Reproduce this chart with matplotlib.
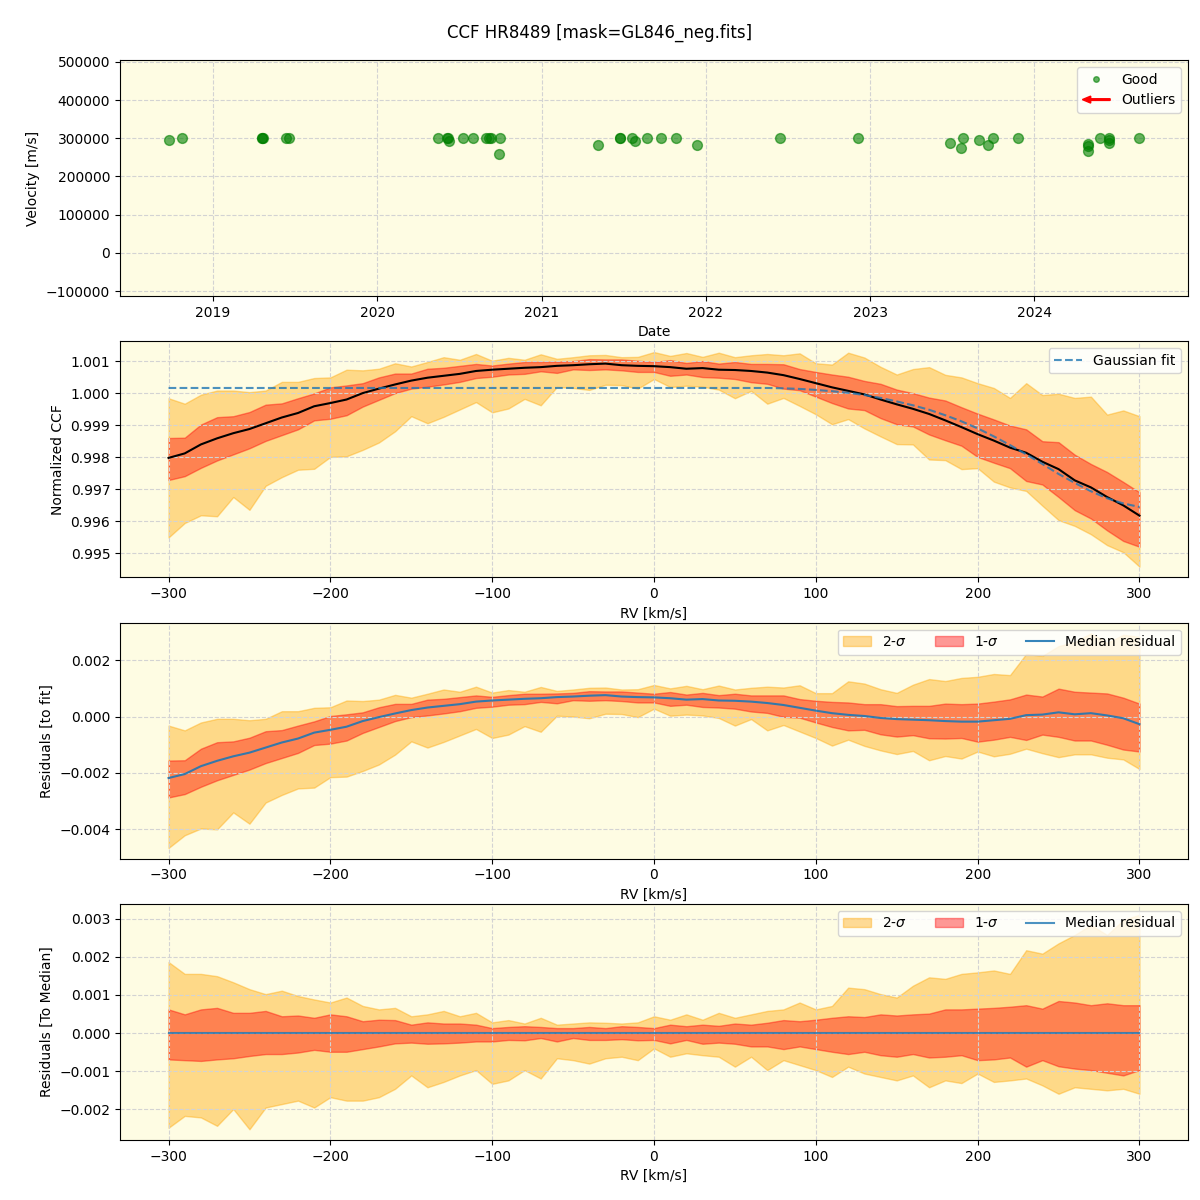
import numpy as np
import pandas as pd
import matplotlib
matplotlib.use("Agg")
import matplotlib.pyplot as plt
import matplotlib.dates as mdates
from matplotlib.lines import Line2D
from matplotlib.patches import FancyArrow
from matplotlib.legend_handler import HandlerPatch

# --- top panel: CCF velocity per night ---
obs_dates = ["2018-09-24", "2018-10-23", "2019-04-19", "2019-04-20", "2019-04-21",
             "2019-06-13", "2019-06-18", "2020-05-15", "2020-06-04", "2020-06-06",
             "2020-06-08", "2020-07-09", "2020-07-31", "2020-08-31", "2020-09-05",
             "2020-09-09", "2020-09-27", "2020-10-01", "2021-05-05", "2021-06-24",
             "2021-06-25", "2021-07-20", "2021-07-27", "2021-08-22", "2021-09-24",
             "2021-10-27", "2021-12-13", "2022-06-14", "2022-12-05", "2023-06-28",
             "2023-07-23", "2023-07-27", "2023-08-31", "2023-09-21", "2023-10-02",
             "2023-11-27", "2024-04-30", "2024-04-30", "2024-04-30", "2024-05-26",
             "2024-06-15", "2024-06-15", "2024-06-16", "2024-08-22"]
velocity = [295000, 300000, 300000, 300000, 300000,
            300000, 300000, 300000, 300000, 300000,
            293000, 300000, 300000, 300000, 300000,
            300000, 258000, 300000, 282000, 300000,
            300000, 300000, 293000, 300000, 300000,
            300000, 282000, 300000, 300000, 287000,
            275000, 300000, 295000, 282000, 300000,
            300000, 284000, 267000, 279000, 300000,
            300000, 287000, 296000, 300000]

# --- CCF profile, values in units of 1e-3 around 1.0 ---
rv = [-300, -290, -280, -270, -260, -250, -240, -230, -220, -210,
      -200, -190, -180, -170, -160, -150, -140, -130, -120, -110,
      -100, -90, -80, -70, -60, -50, -40, -30, -20, -10,
      0, 10, 20, 30, 40, 50, 60, 70, 80, 90,
      100, 110, 120, 130, 140, 150, 160, 170, 180, 190,
      200, 210, 220, 230, 240, 250, 260, 270, 280, 290, 300]

ccf_median = [-2.02, -1.88, -1.60, -1.41, -1.25, -1.12, -0.94, -0.76, -0.62, -0.41,
              -0.31, -0.20, 0.00, 0.14, 0.27, 0.39, 0.48, 0.54, 0.60, 0.69,
              0.73, 0.76, 0.79, 0.81, 0.85, 0.87, 0.90, 0.92, 0.87, 0.85,
              0.84, 0.81, 0.76, 0.78, 0.73, 0.72, 0.69, 0.64, 0.56, 0.44,
              0.31, 0.18, 0.07, -0.04, -0.20, -0.35, -0.49, -0.65, -0.85, -1.06,
              -1.28, -1.48, -1.70, -1.86, -2.14, -2.37, -2.72, -2.94, -3.24, -3.50, -3.82]

gauss_fit = [0.16, 0.16, 0.16, 0.16, 0.16, 0.16, 0.16, 0.16, 0.16, 0.16,
             0.16, 0.16, 0.16, 0.16, 0.16, 0.16, 0.16, 0.16, 0.16, 0.16,
             0.16, 0.16, 0.16, 0.16, 0.16, 0.16, 0.16, 0.16, 0.16, 0.16,
             0.16, 0.16, 0.16, 0.16, 0.16, 0.16, 0.16, 0.16, 0.15, 0.13,
             0.10, 0.06, 0.01, -0.06, -0.15, -0.26, -0.38, -0.52, -0.69, -0.88,
             -1.10, -1.35, -1.62, -1.91, -2.21, -2.52, -2.80, -3.06, -3.28, -3.44, -3.55]

# percentile bands relative to the median
up2 = [1.86, 1.55, 1.55, 1.49, 1.33, 1.15, 1.02, 1.11, 0.97, 0.88,
       0.80, 0.93, 0.71, 0.62, 0.66, 0.44, 0.49, 0.58, 0.44, 0.53,
       0.28, 0.34, 0.25, 0.40, 0.22, 0.25, 0.28, 0.27, 0.25, 0.28,
       0.44, 0.35, 0.49, 0.35, 0.53, 0.40, 0.49, 0.58, 0.62, 0.80,
       0.62, 0.71, 1.19, 1.15, 1.02, 0.93, 1.24, 1.46, 1.42, 1.55,
       1.59, 1.64, 1.55, 2.17, 2.08, 2.35, 2.57, 2.83, 2.57, 2.96, 3.10]
up1 = [0.62, 0.49, 0.62, 0.66, 0.53, 0.53, 0.58, 0.44, 0.46, 0.40,
       0.49, 0.44, 0.31, 0.35, 0.34, 0.22, 0.28, 0.25, 0.25, 0.22,
       0.13, 0.16, 0.18, 0.16, 0.13, 0.13, 0.16, 0.13, 0.18, 0.16,
       0.13, 0.22, 0.18, 0.22, 0.19, 0.25, 0.22, 0.27, 0.34, 0.31,
       0.35, 0.40, 0.44, 0.42, 0.49, 0.46, 0.49, 0.51, 0.62, 0.62,
       0.64, 0.66, 0.69, 0.73, 0.64, 0.84, 0.80, 0.73, 0.78, 0.73, 0.73]
lo1 = [-0.69, -0.71, -0.73, -0.69, -0.66, -0.60, -0.55, -0.55, -0.51, -0.44,
       -0.49, -0.49, -0.42, -0.35, -0.27, -0.25, -0.28, -0.27, -0.25, -0.22,
       -0.22, -0.18, -0.19, -0.13, -0.22, -0.13, -0.18, -0.18, -0.16, -0.19,
       -0.18, -0.27, -0.18, -0.28, -0.25, -0.28, -0.35, -0.35, -0.42, -0.35,
       -0.42, -0.49, -0.55, -0.49, -0.58, -0.62, -0.55, -0.64, -0.62, -0.58,
       -0.71, -0.69, -0.64, -0.88, -0.71, -0.87, -0.93, -0.97, -1.04, -1.11, -0.97]
lo2 = [-2.48, -2.17, -2.21, -2.43, -1.99, -2.52, -1.95, -1.86, -1.77, -1.95,
       -1.68, -1.77, -1.77, -1.68, -1.46, -1.11, -1.42, -1.28, -1.11, -0.97,
       -1.33, -1.24, -0.97, -1.19, -0.66, -0.71, -0.80, -0.66, -0.62, -0.71,
       -0.40, -0.62, -0.53, -0.58, -0.62, -0.88, -0.62, -0.97, -0.71, -0.84,
       -0.97, -1.15, -0.88, -1.06, -1.15, -1.24, -1.11, -1.42, -1.24, -1.31,
       -1.06, -1.28, -1.24, -1.19, -1.37, -1.59, -1.42, -1.46, -1.50, -1.46, -1.59]

rv = np.array(rv)
med = np.array(ccf_median) * 1e-3
fit = np.array(gauss_fit) * 1e-3
up2 = np.array(up2) * 1e-3
up1 = np.array(up1) * 1e-3
lo1 = np.array(lo1) * 1e-3
lo2 = np.array(lo2) * 1e-3

bg = "#fefce3"
c2 = "orange"
c1 = "red"


def arrow_handle(legend, orig_handle, xdescent, ydescent, width, height, fontsize):
    return FancyArrow(width - xdescent, height / 2 - ydescent, -width, 0,
                      width=1.2, head_width=5, head_length=6,
                      length_includes_head=True, color="red")


fig, axes = plt.subplots(4, 1, figsize=(12, 12))
fig.subplots_adjust(left=0.1, right=0.99, top=0.95, bottom=0.05, hspace=0.192)
fig.suptitle("CCF HR8489 [mask=GL846_neg.fits]", fontsize=12)

# panel 1
ax = axes[0]
ax.set_facecolor(bg)
dts = pd.to_datetime(obs_dates)
ax.scatter(dts, velocity, s=50, color="green", alpha=0.6, zorder=3)
ax.set_ylim(-113000, 505000)
ax.xaxis.set_major_locator(mdates.YearLocator())
ax.xaxis.set_major_formatter(mdates.DateFormatter("%Y"))
ax.set_xlabel("Date")
ax.set_ylabel("Velocity [m/s]")
ax.grid(True, linestyle="--", color="lightgray")
good_h = Line2D([], [], marker="o", color="green", alpha=0.6, linestyle="None", markersize=4)
out_h = FancyArrow(0, 0, 1, 0, color="red")
ax.legend([good_h, out_h], ["Good", "Outliers"], loc="upper right",
          handler_map={FancyArrow: HandlerPatch(patch_func=arrow_handle)})

# panel 2
ax = axes[1]
ax.set_facecolor(bg)
ccf = 1 + med
ax.fill_between(rv, 1 + med + lo2, 1 + med + up2, color=c2, alpha=0.4)
ax.fill_between(rv, 1 + med + lo1, 1 + med + up1, color=c1, alpha=0.4)
ax.plot(rv, ccf, color="black", lw=1.5)
ax.plot(rv, 1 + fit, "--", color="C0", alpha=0.8, lw=1.5, label="Gaussian fit")
ax.set_xlabel("RV [km/s]")
ax.set_ylabel("Normalized CCF")
ax.grid(True, linestyle="--", color="lightgray")
ax.legend(loc="upper right")

# panel 3
ax = axes[2]
ax.set_facecolor(bg)
res = med - fit
ax.fill_between(rv, res + lo2, res + up2, color=c2, alpha=0.4, label="2-$\\sigma$")
ax.fill_between(rv, res + lo1, res + up1, color=c1, alpha=0.4, label="1-$\\sigma$")
ax.plot(rv, res, color="C0", alpha=0.9, lw=1.5, label="Median residual")
ax.set_xlabel("RV [km/s]")
ax.set_ylabel("Residuals [to fit]")
ax.grid(True, linestyle="--", color="lightgray")
ax.legend(loc="upper right", ncol=3)

# panel 4
ax = axes[3]
ax.set_facecolor(bg)
ax.fill_between(rv, lo2, up2, color=c2, alpha=0.4, label="2-$\\sigma$")
ax.fill_between(rv, lo1, up1, color=c1, alpha=0.4, label="1-$\\sigma$")
ax.plot(rv, med - med, color="C0", alpha=0.8, lw=1.5, label="Median residual")
ax.set_xlabel("RV [km/s]")
ax.set_ylabel("Residuals [To Median]")
ax.grid(True, linestyle="--", color="lightgray")
ax.legend(loc="upper right", ncol=3)

fig.savefig("out.png", dpi=100)
